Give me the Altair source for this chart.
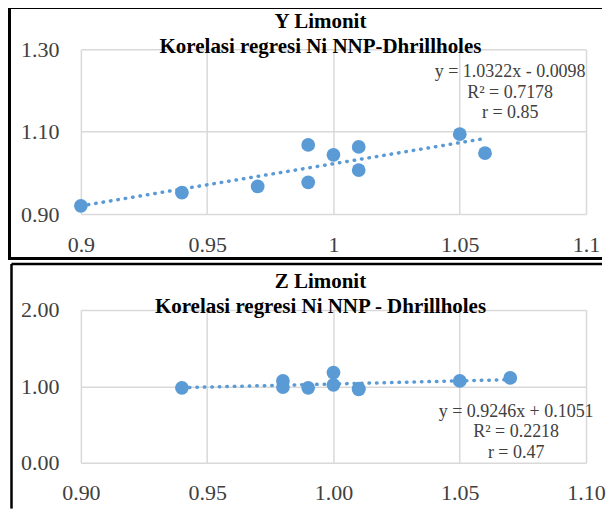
import altair as alt
import pandas as pd

# ---- data ----
y_x = [0.90, 0.94, 0.97, 0.99, 0.99, 1.00, 1.01, 1.01, 1.05, 1.06]
y_y = [0.920, 0.952, 0.967, 0.977, 1.068, 1.044, 1.007, 1.063, 1.094, 1.048]
z_x = [0.94, 0.98, 0.98, 0.99, 1.00, 1.00, 1.01, 1.01, 1.05, 1.07]
z_y = [0.98, 1.07, 0.99, 0.98, 1.18, 1.02, 0.97, 0.96, 1.07, 1.11]

x_ticks = [0.90, 0.95, 1.00, 1.05, 1.10]
top_y_ticks = [0.90, 1.10, 1.30]
bot_y_ticks = [0.0, 1.0, 2.0]

top_title = ["Y Limonit", "Korelasi regresi Ni NNP-Dhrillholes"]
top_eq = ["y = 1.0322x  - 0.0098", "R² = 0.7178", "r = 0.85"]
bot_title = ["Z Limonit", "Korelasi regresi Ni NNP - Dhrillholes"]
bot_eq = ["y = 0.9246x + 0.1051", "R² = 0.2218", "r = 0.47"]

BLUE = "#5B9BD5"
FONT = "Liberation Serif"
TXT = "#404040"
RIGHT_END = 522


def panel(xs, ys, ydom, yticks, xfmt, extent, title, eq, h, g):
    df = pd.DataFrame({"x": xs, "y": ys})
    base = alt.Chart(df)
    xenc = alt.X("x:Q", scale=alt.Scale(domain=[0.9, 1.1], nice=False, zero=False),
                 axis=alt.Axis(values=x_ticks, format=xfmt, title=None,
                               labelPadding=g["xpad"]))
    yenc = alt.Y("y:Q", scale=alt.Scale(domain=ydom, nice=False, zero=False),
                 axis=alt.Axis(values=yticks, format=".2f", title=None, labelPadding=22))
    pts = base.mark_circle(size=190, color=BLUE, opacity=1).encode(x=xenc, y=yenc)
    trend = base.transform_regression("x", "y", extent=extent).mark_line(
        color=BLUE, strokeWidth=3.5, strokeDash=[0.5, 7], strokeCap="round"
    ).encode(x="x:Q", y="y:Q")
    one = alt.Chart(pd.DataFrame({"k": [0]}))
    top_line = one.mark_rule(color="black", strokeWidth=g["sw"]).encode(
        x=alt.value(g["left"]), x2=alt.value(RIGHT_END), y=alt.value(g["top"]))
    left_line = one.mark_rule(color="black", strokeWidth=g["sw"]).encode(
        x=alt.value(g["left"]), y=alt.value(g["top"]), y2=alt.value(g["bottom"]))
    layers = [top_line, left_line]
    if g.get("bline") is not None:
        layers.append(one.mark_rule(color="black", strokeWidth=g["sw"]).encode(
            x=alt.value(g["left"]), x2=alt.value(RIGHT_END), y=alt.value(g["bline"])))
    ttl = one.mark_text(text=title, lineHeight=25, font=FONT, fontSize=21,
                        fontWeight="bold", align="center", baseline="alphabetic",
                        color="black").encode(x=alt.value(240), y=alt.value(g["ty"]))
    eqt = one.mark_text(text=eq, lineHeight=20.5, font=FONT, fontSize=18,
                        align="center", baseline="alphabetic", color=TXT).encode(
        x=alt.value(g["ex"]), y=alt.value(g["ey"]))
    return alt.layer(*layers, pts, trend, ttl, eqt).properties(width=506, height=h)


top = panel(y_x, y_y, [0.9, 1.3], top_y_ticks, ".2~f", [0.9, 1.06], top_title, top_eq, 165,
            dict(xpad=20, sw=3, left=-71.5, top=-42, bottom=211, bline=209.5,
                 ty=-21, ex=430, ey=28))
bot = panel(z_x, z_y, [0.0, 2.0], bot_y_ticks, ".2f", [0.94, 1.07], bot_title, bot_eq, 153,
            dict(xpad=20, sw=2.5, left=-69.5, top=-46, bottom=199, bline=None,
                 ty=-22, ex=436, ey=107))

chart = alt.vconcat(top, bot, spacing=0).properties(
    padding={"top": -3, "left": 0, "right": 0, "bottom": 0}
).configure_view(
    strokeWidth=0
).configure_axis(
    labelFont=FONT, labelFontSize=22, labelColor=TXT, domain=False, ticks=False,
    tickSize=0, grid=True, gridColor="#D9D9D9", gridWidth=1.5,
    labelFlush=False, labelOverlap=False
)

chart.save("out.html", embed_options={"renderer": "svg", "actions": False})
